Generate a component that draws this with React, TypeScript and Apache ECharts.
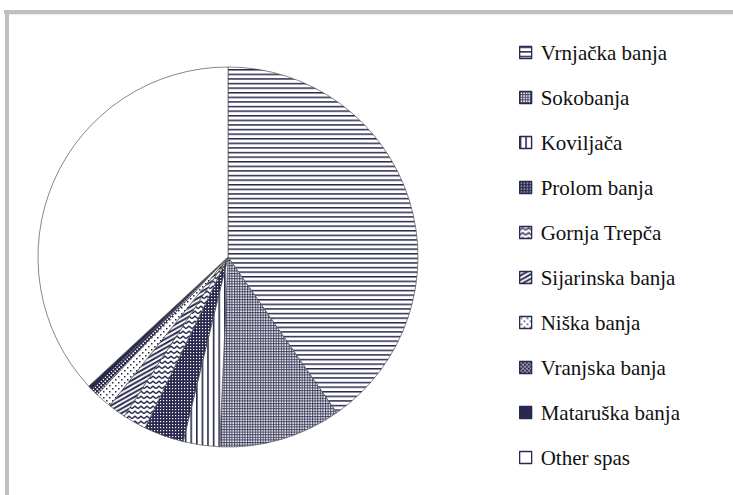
import React, { useEffect, useRef } from "react";
import * as echarts from "echarts";

const names = [
  "Vrnjačka banja",
  "Sokobanja",
  "Koviljača",
  "Prolom banja",
  "Gornja Trepča",
  "Sijarinska banja",
  "Niška banja",
  "Vranjska banja",
  "Mataruška banja",
  "Other spas",
];
const values = [40.3, 10.4, 3.1, 3.4, 2.0, 1.5, 1.4, 0.6, 0.4, 36.9];

const NAVY = "#29294f";

function pat(w: number, h: number, body: string, bg = "#ffffff") {
  const svg = `<svg xmlns="http://www.w3.org/2000/svg" width="${w}" height="${h}"><rect width="${w}" height="${h}" fill="${bg}"/>${body}</svg>`;
  return {
    image: "data:image/svg+xml;charset=utf-8," + encodeURIComponent(svg),
    repeat: "repeat",
    imageWidth: w,
    imageHeight: h,
  };
}

const fills: any[] = [
  // horizontal lines
  pat(4, 4.6, `<rect x="0" y="0" width="4" height="1.5" fill="${NAVY}"/>`),
  // fine dotted (gray look)
  pat(2.6, 2.6, `<rect x="0" y="0" width="2.6" height="1.1" fill="${NAVY}" fill-opacity="0.8"/><rect x="0" y="0" width="1.1" height="2.6" fill="${NAVY}" fill-opacity="0.8"/>`),
  // vertical lines
  pat(5.6, 4, `<rect x="0" y="0" width="1.6" height="4" fill="${NAVY}"/>`),
  // dense dark with white dots
  pat(3, 3, `<rect x="1" y="1" width="1.2" height="1.2" fill="#ffffff"/>`, NAVY),
  // zigzag
  pat(6, 5, `<polyline points="0,3.6 3,1.2 6,3.6" fill="none" stroke="${NAVY}" stroke-width="1.4"/>`),
  // diagonal thick stripes
  pat(8, 4.5, `<line x1="-8" y1="9" x2="16" y2="-4.5" stroke="${NAVY}" stroke-width="1.9"/><line x1="-8" y1="4.5" x2="16" y2="-9" stroke="${NAVY}" stroke-width="1.9"/><line x1="-8" y1="13.5" x2="16" y2="0" stroke="${NAVY}" stroke-width="1.9"/>`),
  // sparse dots
  pat(6, 6, `<rect x="1" y="1" width="1.5" height="1.5" fill="${NAVY}"/><rect x="4" y="4" width="1.5" height="1.5" fill="${NAVY}"/>`),
  // checker dots
  pat(4, 4, `<rect x="0.5" y="0.5" width="1.5" height="1.5" fill="#ffffff"/><rect x="2.5" y="2.5" width="1.5" height="1.5" fill="#ffffff"/>`, NAVY),
  // solid
  NAVY,
  // white
  "#ffffff",
];

export default function App() {
  const ref = useRef<HTMLDivElement>(null);
  useEffect(() => {
    if (!ref.current) return;
    const chart = echarts.init(ref.current, null, { renderer: "svg" });
    chart.setOption({
      animation: false,
      backgroundColor: "#ffffff",
      graphic: [
        { type: "rect", shape: { x: 4, y: 10, width: 729, height: 4 }, style: { fill: "#c0c0c0" }, silent: true },
        { type: "rect", shape: { x: 5, y: 10, width: 4, height: 485 }, style: { fill: "#c0c0c0" }, silent: true },
        { type: "rect", shape: { x: 9, y: 14, width: 724, height: 1 }, style: { fill: "#ececec" }, silent: true },
      ],
      legend: {
        orient: "vertical",
        left: 514,
        top: 37,
        itemWidth: 12,
        itemHeight: 12,
        itemGap: 24,
        icon: "rect",
        selectedMode: false,
        itemStyle: { borderColor: NAVY, borderWidth: 1.3 },
        textStyle: {
          fontFamily: "Liberation Serif",
          fontSize: 21,
          lineHeight: 20,
          color: "#111111",
          padding: [0, 0, 0, 4],
        },
        data: names,
      },
      series: [
        {
          type: "pie",
          center: [228, 257],
          radius: 190,
          startAngle: 90,
          clockwise: true,
          label: { show: false },
          labelLine: { show: false },
          emphasis: { disabled: true },
          itemStyle: { borderColor: "#555555", borderWidth: 0.7 },
          data: names.map((n, i) => ({
            name: n,
            value: values[i],
            itemStyle: { color: fills[i] },
          })),
        },
      ],
    });
    return () => chart.dispose();
  }, []);
  return (
    <div
      ref={ref}
      style={{ position: "fixed", left: 0, top: 0, width: 733, height: 495 }}
    />
  );
}
